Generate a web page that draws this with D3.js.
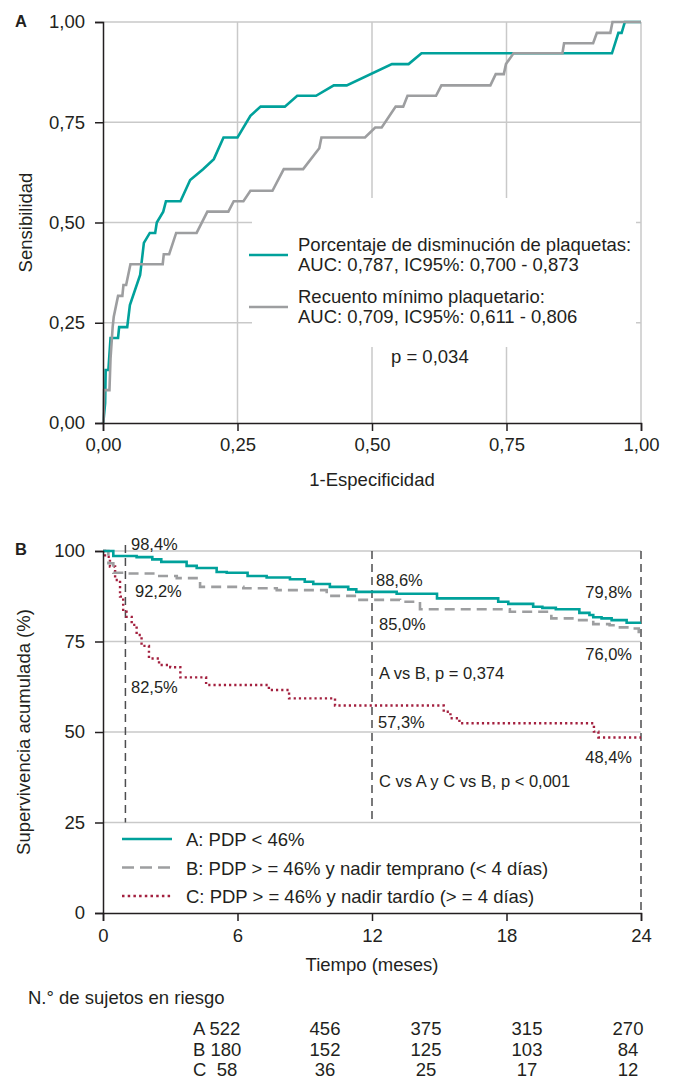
<!DOCTYPE html>
<html>
<head>
<meta charset="utf-8">
<script src="https://cdn.jsdelivr.net/npm/d3@7"></script>
<style>
  body { margin: 0; background: #fff; }
  svg { display: block; font-family: "Liberation Sans", Arial, Helvetica, sans-serif; }
  text { fill: #231f20; }
</style>
</head>
<body>
<svg id="chart" width="674" height="1080"></svg>
<script>
// ---- data: panel A (ROC), [1-especificidad, sensibilidad]
const rocPorcentaje = [[0,0],[0.001,0.007],[0.004,0.05],[0.005,0.132],[0.01,0.132],[0.014,0.212],[0.028,0.212],[0.03,0.239],[0.045,0.239],[0.05,0.294],[0.069,0.369],[0.076,0.449],[0.087,0.474],[0.097,0.474],[0.1,0.5],[0.112,0.527],[0.117,0.553],[0.144,0.553],[0.162,0.606],[0.186,0.633],[0.206,0.658],[0.224,0.712],[0.25,0.712],[0.274,0.766],[0.293,0.789],[0.338,0.789],[0.361,0.816],[0.396,0.816],[0.429,0.842],[0.453,0.842],[0.537,0.895],[0.568,0.895],[0.592,0.922],[0.946,0.922],[0.958,0.973],[0.964,0.973],[0.97,1],[1,1]];
const rocRecuento = [[0,0],[0.001,0.007],[0.002,0.082],[0.012,0.082],[0.014,0.161],[0.018,0.24],[0.02,0.265],[0.028,0.317],[0.036,0.317],[0.038,0.344],[0.043,0.344],[0.051,0.396],[0.111,0.396],[0.113,0.421],[0.123,0.421],[0.136,0.474],[0.174,0.474],[0.194,0.527],[0.233,0.527],[0.243,0.553],[0.261,0.553],[0.274,0.579],[0.315,0.579],[0.336,0.633],[0.372,0.633],[0.402,0.685],[0.406,0.712],[0.487,0.712],[0.506,0.737],[0.518,0.737],[0.544,0.789],[0.558,0.789],[0.566,0.816],[0.619,0.816],[0.629,0.842],[0.72,0.842],[0.73,0.87],[0.745,0.87],[0.749,0.895],[0.763,0.922],[0.854,0.922],[0.857,0.947],[0.911,0.947],[0.918,0.973],[0.943,0.973],[0.947,1],[1,1]];
const rocTicks = [0, 0.25, 0.5, 0.75, 1];
const rocLegend = [
  ["Porcentaje de disminución de plaquetas:", "AUC: 0,787, IC95%: 0,700 - 0,873"],
  ["Recuento mínimo plaquetario:", "AUC: 0,709, IC95%: 0,611 - 0,806"]
];

// ---- data: panel B (Kaplan-Meier), [meses, supervivencia %]
const kmA = [[0,100],[0.46,98.6],[1.5,98.3],[2.2,97.7],[2.6,97.0],[3.73,95.9],[4.18,95.3],[5.07,94.2],[5.52,94.0],[6.45,93.1],[7.3,92.7],[8.34,92.2],[9.0,91.5],[9.38,90.9],[10.12,90.1],[10.94,89.4],[11.3,88.7],[13.1,88.2],[14.9,86.9],[17.63,86.0],[18.08,85.4],[19.19,84.6],[19.6,84.3],[20.2,83.9],[21.25,82.9],[21.7,82.3],[21.87,81.7],[22.24,81.4],[22.69,80.9],[23.36,80.2],[24,80.2]];
const kmB = [[0,100],[0.24,96.6],[0.46,94.0],[1.13,93.8],[2.4,93.1],[3.29,92.5],[4.33,90.1],[6.26,89.7],[7.75,89.2],[9.98,87.6],[11.3,86.5],[13.25,86.0],[14.14,83.9],[18.15,83.2],[20.0,81.4],[21.0,80.9],[21.87,79.8],[22.6,79.5],[23.06,78.9],[23.5,78.6],[23.9,77.0],[24,77.0]];
const kmC = [[0,100],[0.09,98.4],[0.31,95.7],[0.54,92.0],[0.76,87.4],[0.9,83.2],[1.05,81.8],[1.28,79.6],[1.5,76.8],[1.72,73.8],[2.05,70.3],[2.5,68.5],[3.0,67.9],[3.45,65.1],[4.6,63.0],[7.4,61.6],[8.3,59.3],[10.35,57.3],[15.2,55.6],[15.5,53.8],[15.9,52.4],[21.9,50.1],[22.1,48.5],[24,48.5]];
const kmTicksX = [0, 6, 12, 18, 24];
const kmTicksY = [0, 25, 50, 75, 100];
const kmMarks = [1, 12, 24];
const kmLegend = ["A: PDP < 46%", "B: PDP > = 46% y nadir temprano (< 4 días)", "C: PDP > = 46% y nadir tardío (> = 4 días)"];
const riskGroups = ["A", "B", "C"];
const riskCounts = [[522, 456, 375, 315, 270], [180, 152, 125, 103, 84], [58, 36, 25, 17, 12]];

const teal = "#00a19b", grey = "#9d9ea0", red = "#a3203f", gridCol = "#c9c9c9";
const fs = 18.5;

const svg = d3.select("#chart");

// ================= Panel A =================
const xA = d3.scaleLinear().domain([0, 1]).range([103, 641]);
const yA = d3.scaleLinear().domain([0, 1]).range([423, 22]);
const fmtA = d => d3.format(".2f")(d).replace(".", ",");

const gA = svg.append("g");
gA.selectAll(".hgrid").data(rocTicks.slice(1)).enter().append("line")
  .attr("x1", xA(0)).attr("x2", xA(1))
  .attr("y1", d => yA(d)).attr("y2", d => yA(d))
  .attr("stroke", gridCol).attr("stroke-width", 1.5);
gA.selectAll(".vgrid").data(rocTicks.slice(1)).enter().append("line")
  .attr("x1", d => xA(d)).attr("x2", d => xA(d))
  .attr("y1", yA(0)).attr("y2", yA(1))
  .attr("stroke", gridCol).attr("stroke-width", 1.5);
// legend box hides the grid behind it
gA.append("rect").attr("x", 252).attr("y", 198).attr("width", 384).attr("height", 149).attr("fill", "#fff");

const lineA = d3.line().x(d => xA(d[0])).y(d => yA(d[1]));
gA.append("path").datum(rocPorcentaje).attr("d", lineA)
  .attr("fill", "none").attr("stroke", teal).attr("stroke-width", 2.6);
gA.append("path").datum(rocRecuento).attr("d", lineA)
  .attr("fill", "none").attr("stroke", grey).attr("stroke-width", 2.6);

const axA_y = gA.append("g").attr("transform", `translate(${xA(0)},0)`)
  .call(d3.axisLeft(yA).tickValues(rocTicks).tickFormat(fmtA).tickSize(8).tickPadding(10));
const axA_x = gA.append("g").attr("transform", `translate(0,${yA(0)})`)
  .call(d3.axisBottom(xA).tickValues(rocTicks).tickFormat(fmtA).tickSize(8).tickPadding(7));
[axA_y, axA_x].forEach(ax => {
  ax.select(".domain").attr("stroke", "#231f20").attr("stroke-width", 1.5);
  ax.selectAll(".tick line").attr("stroke", "#231f20").attr("stroke-width", 1.5);
  ax.selectAll(".tick text").attr("font-size", fs).attr("fill", "#231f20");
});

gA.append("text").attr("x", 15).attr("y", 27).attr("font-size", 16.5).attr("font-weight", "bold").text("A");
gA.append("text").attr("transform", `translate(32,${(yA(0) + yA(1)) / 2}) rotate(-90)`)
  .attr("text-anchor", "middle").attr("font-size", fs).text("Sensibilidad");
gA.append("text").attr("x", (xA(0) + xA(1)) / 2).attr("y", 486)
  .attr("text-anchor", "middle").attr("font-size", fs).text("1-Especificidad");

[teal, grey].forEach((c, i) => {
  const y0 = 255 + i * 52;
  gA.append("line").attr("x1", 249).attr("x2", 288).attr("y1", y0).attr("y2", y0)
    .attr("stroke", c).attr("stroke-width", 2.6);
  rocLegend[i].forEach((t, j) => {
    gA.append("text").attr("x", 298).attr("y", 251 + i * 52 + j * 20).attr("font-size", fs).text(t);
  });
});
gA.append("text").attr("x", 391).attr("y", 363).attr("font-size", fs).text("p = 0,034");

// ================= Panel B =================
const xB = d3.scaleLinear().domain([0, 24]).range([103, 641]);
const yB = d3.scaleLinear().domain([0, 100]).range([913, 551]);

const gB = svg.append("g");
gB.selectAll(".hgridB").data(kmTicksY.slice(1)).enter().append("line")
  .attr("x1", xB(0)).attr("x2", xB(24))
  .attr("y1", d => yB(d)).attr("y2", d => yB(d))
  .attr("stroke", gridCol).attr("stroke-width", 1.5);
gB.selectAll(".mark").data(kmMarks).enter().append("line")
  .attr("x1", d => xB(d)).attr("x2", d => xB(d))
  .attr("y1", d => d === 1 ? 545 : yB(100))
  .attr("y2", d => d === 24 ? yB(0) : yB(25))
  .attr("stroke", "#4d4d4f").attr("stroke-width", 1.5).attr("stroke-dasharray", "8,5");

const lineB = d3.line().x(d => xB(d[0])).y(d => yB(d[1])).curve(d3.curveStepAfter);
gB.append("path").datum(kmC).attr("d", lineB).attr("fill", "none")
  .attr("stroke", red).attr("stroke-width", 2.4).attr("stroke-dasharray", "2.2,3");
gB.append("path").datum(kmB).attr("d", lineB).attr("fill", "none")
  .attr("stroke", grey).attr("stroke-width", 2.6).attr("stroke-dasharray", "10,6");
gB.append("path").datum(kmA).attr("d", lineB).attr("fill", "none")
  .attr("stroke", teal).attr("stroke-width", 2.6);

const axB_y = gB.append("g").attr("transform", `translate(${xB(0)},0)`)
  .call(d3.axisLeft(yB).tickValues(kmTicksY).tickSize(8).tickPadding(10));
const axB_x = gB.append("g").attr("transform", `translate(0,${yB(0)})`)
  .call(d3.axisBottom(xB).tickValues(kmTicksX).tickSize(8).tickPadding(8));
[axB_y, axB_x].forEach(ax => {
  ax.select(".domain").attr("stroke", "#231f20").attr("stroke-width", 1.5);
  ax.selectAll(".tick line").attr("stroke", "#231f20").attr("stroke-width", 1.5);
  ax.selectAll(".tick text").attr("font-size", fs).attr("fill", "#231f20");
});

gB.append("text").attr("x", 15).attr("y", 555).attr("font-size", 16.5).attr("font-weight", "bold").text("B");
gB.append("text").attr("transform", `translate(30,${(yB(0) + yB(100)) / 2}) rotate(-90)`)
  .attr("text-anchor", "middle").attr("font-size", fs).text("Supervivencia acumulada (%)");
gB.append("text").attr("x", (xB(0) + xB(24)) / 2).attr("y", 971)
  .attr("text-anchor", "middle").attr("font-size", fs).text("Tiempo (meses)");

// value labels at 1, 12 and 24 months
const notes = [
  ["98,4%", 131, 550, "start"], ["92,2%", 135, 597, "start"], ["82,5%", 131, 693, "start"],
  ["88,6%", 376, 586, "start"], ["85,0%", 379, 630, "start"], ["57,3%", 378, 728, "start"],
  ["79,8%", 632, 598, "end"], ["76,0%", 632, 660, "end"], ["48,4%", 632, 763, "end"],
  ["A vs B, p = 0,374", 379, 679, "start"], ["C vs A y C vs B, p < 0,001", 379, 787, "start"]
];
gB.selectAll(".note").data(notes).enter().append("text")
  .attr("x", d => d[1]).attr("y", d => d[2]).attr("text-anchor", d => d[3])
  .attr("font-size", 16.5).text(d => d[0]);

const legStyles = [
  { c: teal, dash: null, w: 2.6 },
  { c: grey, dash: "12,6", w: 2.6 },
  { c: red, dash: "2.5,3.2", w: 2.4 }
];
kmLegend.forEach((t, i) => {
  const y0 = 839 + i * 28.5;
  gB.append("line").attr("x1", 122).attr("x2", 172).attr("y1", y0).attr("y2", y0)
    .attr("stroke", legStyles[i].c).attr("stroke-width", legStyles[i].w)
    .attr("stroke-dasharray", legStyles[i].dash);
  gB.append("text").attr("x", 186).attr("y", y0 + 7).attr("font-size", fs).text(t);
});

// ---- tabla de sujetos en riesgo
svg.append("text").attr("x", 28).attr("y", 1004).attr("font-size", fs).text("N.° de sujetos en riesgo");
const colX = d3.scaleLinear().domain([1, 4]).range([325, 628]);
riskCounts.forEach((row, i) => {
  const y0 = 1035 + i * 20.5;
  svg.append("text").attr("x", 193).attr("y", y0).attr("font-size", fs)
    .style("white-space", "pre")
    .text(riskGroups[i] + (row[0] < 100 ? "  " : " ") + row[0]);
  svg.selectAll(null).data(row.slice(1)).enter().append("text")
    .attr("x", (d, j) => colX(j + 1)).attr("y", y0)
    .attr("text-anchor", "middle").attr("font-size", fs).text(d => d);
});
</script>
</body>
</html>
